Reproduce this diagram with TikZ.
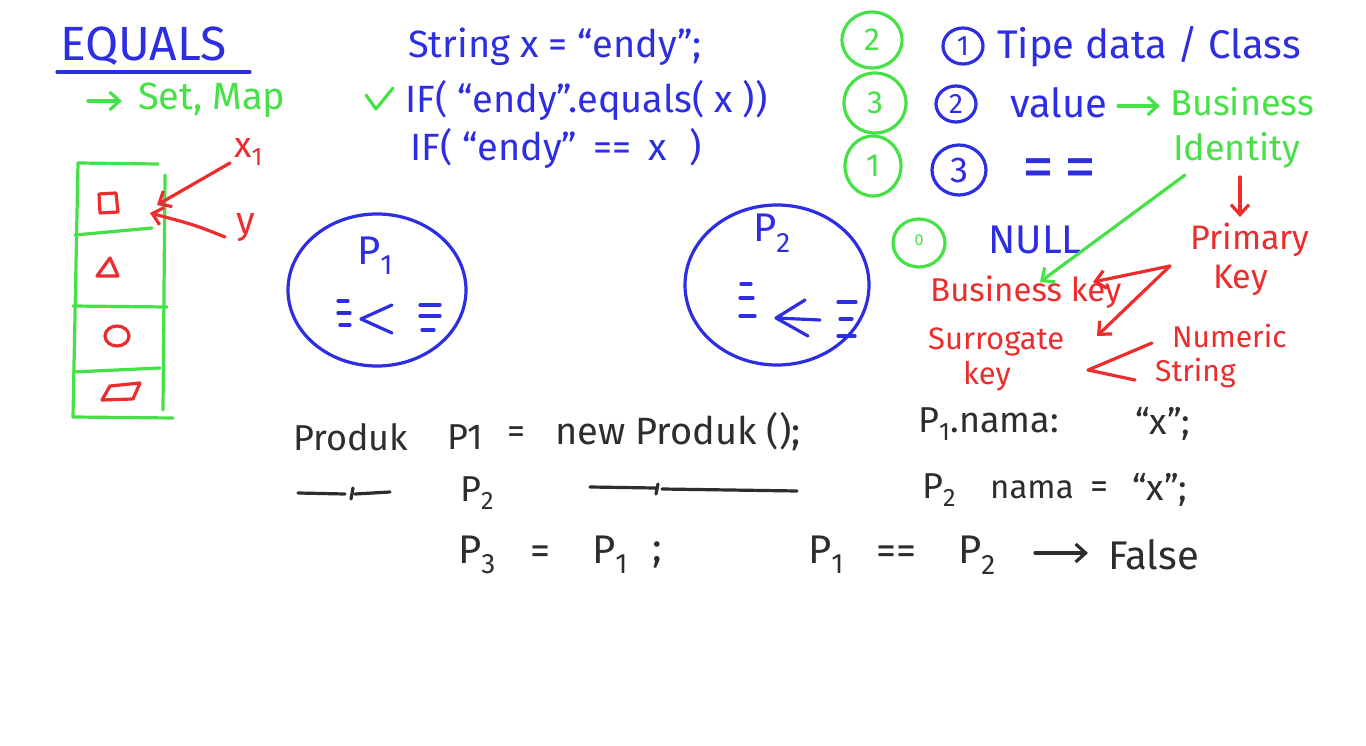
\documentclass[tikz,border=0pt]{standalone}
\usepackage{fontspec}
\setmainfont{Fira Sans}
\usetikzlibrary{arrows.meta}
\definecolor{penblue}{RGB}{45,45,225}
\definecolor{pengreen}{RGB}{70,225,70}
\definecolor{penred}{RGB}{235,45,45}
\definecolor{penblack}{RGB}{45,45,45}
\tikzset{
  hand/.style={line width=3.2pt, line cap=round, line join=round},
  barb/.style={-{Straight Barb[length=10pt,width=18pt,line width=3.2pt]}},
  txt/.style={inner sep=0pt, anchor=west, font=\fontsize{36}{40}\selectfont},
  fs/.style={font=\fontsize{#1}{#1}\selectfont},
  numtxt/.style={inner sep=0pt, font=\fontsize{32}{34}\selectfont},
  bl/.style={text=penblue},
  gr/.style={text=pengreen},
  rd/.style={text=penred},
  bk/.style={text=penblack},
}
\begin{document}
\begin{tikzpicture}[x=1pt,y=-1pt]
\useasboundingbox[fill=white] (0,0) rectangle (1366,746);

% ---- EQUALS header
\node[txt,bl,fs=48] (equals) at (60,46) {EQUALS};
\draw[hand,penblue] (57,72) -- (250,72);
\coordinate (setarrA) at (88,101);
\coordinate (setarrB) at (122,101);
\draw[hand,pengreen,barb] (setarrA) -- (setarrB);
\node[txt,gr,fs=38] (setmap) at (138,100) {Set, Map};

% ---- green bucket box
\draw[hand,pengreen] (78,163) -- (158,164);
\draw[hand,pengreen] (78,163) -- (73,417) -- (173,418);
\draw[hand,pengreen] (165,175) -- (163,410);
\draw[hand,pengreen] (75,235) -- (152,228);
\draw[hand,pengreen] (73,306) -- (167,307);
\draw[hand,pengreen] (73,372) -- (160,368);
% red shapes
\draw[hand,penred] (99,194) -- (116,193) -- (118,212) -- (100,213) -- cycle;
\draw[hand,penred] (97,276) -- (110,258) -- (118,276) -- cycle;
\draw[hand,penred] (117,336) ellipse[x radius=12,y radius=10];
\draw[hand,penred] (102,400) -- (110,386) -- (140,383) -- (133,399) -- cycle;
% x1 / y
\node[txt,rd,fs=36] (xone) at (234,152) {x\textsubscript{1}};
\node[txt,rd,fs=38] (yy) at (236,228) {y};
\coordinate (cellA) at (157,205);
\coordinate (cellB) at (150,213);
\draw[hand,penred,barb] (230,163) -- (cellA);
\draw[hand,penred,barb] (225,237) .. controls (195,225) .. (cellB);

% ---- code
\node[txt,bl,fs=38] (code1) at (408,47) {String x = “endy”;};
\node[txt,bl,fs=38] (code2) at (405,100) {IF( “endy”.equals( x ))};
\node[txt,bl,fs=38] (code3) at (410,148) {IF( “endy” \,== \,x \,\,)};
\draw[hand,pengreen] (366,95) -- (376,109) -- (393,88);

% ---- numbered list
\draw[hand,pengreen] (872,40) ellipse[x radius=30,y radius=28];
\node[numtxt,gr] (g2) at (872,40) {2};
\draw[hand,pengreen] (875,103) ellipse[x radius=31,y radius=30];
\node[numtxt,gr] (g3) at (875,103) {3};
\draw[hand,pengreen] (873,166) ellipse[x radius=28,y radius=30];
\node[numtxt,gr] (g1) at (873,166) {1};
\draw[hand,penblue] (963,46) ellipse[x radius=20,y radius=18];
\node[numtxt,bl,fs=28] (b1) at (963,46) {1};
\draw[hand,penblue] (956,104) ellipse[x radius=20,y radius=18];
\node[numtxt,bl,fs=28] (b2) at (956,104) {2};
\draw[hand,penblue] (959,170) ellipse[x radius=27,y radius=25];
\node[numtxt,bl,fs=36] (b3) at (959,170) {3};
\node[txt,bl,fs=40] (tipe) at (997,47) {Tipe data / Class};
\node[txt,bl,fs=40] (value) at (1010,103) {value};
\coordinate (valarrA) at (1118,106);
\coordinate (valarrB) at (1160,106);
\draw[hand,pengreen,barb] (valarrA) -- (valarrB);
\node[txt,gr,fs=36] (busid1) at (1170,102) {Business};
\node[txt,gr,fs=36] (busid2) at (1173,150) {Identity};
\node[txt,bl,fs=64] (eqeq) at (1022,174) {=\,=};

% ---- NULL and keys
\draw[hand,pengreen] (919,243) ellipse[x radius=26,y radius=24];
\node[numtxt,gr,fs=16] (g0) at (919,240) {0};
\node[txt,bl,fs=40] (null) at (988,240) {NULL};
\node[txt,rd,fs=34] (primary) at (1190,240) {Primary};
\node[txt,rd,fs=34] (pkey) at (1213,280) {Key};
\node[txt,rd,fs=33] (buskey) at (930,292) {Business key};
\node[txt,rd,fs=31] (surr) at (928,342) {Surrogate};
\node[txt,rd,fs=31] (skey) at (963,376) {key};
\node[txt,rd,fs=30] (numeric) at (1172,336) {Numeric};
\node[txt,rd,fs=30] (string) at (1155,373) {String};
\coordinate (bkin) at (1040,282);
\draw[hand,pengreen,barb] (1185,175) -- (bkin);
\coordinate (pkin) at (1240,217);
\draw[hand,penred,barb] (1240,177) -- (pkin);
\coordinate (vtop) at (1170,266);
\coordinate (bkarr) at (1093,282);
\coordinate (skarr) at (1097,336);
\draw[hand,penred,barb] (vtop) -- (bkarr);
\draw[hand,penred,barb] (vtop) -- (skarr);
\draw[hand,penred] (1152,343) -- (1088,370) -- (1135,380);

% ---- object circles
\draw[hand,penblue] (377,290) ellipse[x radius=89,y radius=76];
\node[bl,numtxt,fs=40] (p1lab) at (375,256) {P\textsubscript{1}};
\draw[hand,penblue] (338,301) -- (348,301) (338,313) -- (350,313) (340,325) -- (350,325);
\draw[hand,penblue] (392,305) -- (361,319) -- (392,333);
\draw[hand,penblue] (420,305) -- (440,305) (420,316) -- (440,316) (422,330) -- (434,330);

\draw[hand,penblue] (777,285) ellipse[x radius=92,y radius=80];
\node[bl,numtxt,fs=40] (p2lab) at (772,233) {P\textsubscript{2}};
\draw[hand,penblue] (741,284) -- (751,284) (740,298) -- (753,298) (740,316) -- (755,316);
\draw[hand,penblue] (805,300) -- (776,318) -- (808,336) (776,318) -- (820,320);
\draw[hand,penblue] (838,302) -- (856,302) (840,319) -- (852,319) (838,336) -- (855,336);

% ---- black code at bottom
\node[txt,bk] (produk) at (293,437) {Produk};
\node[txt,bk] (pone) at (447,437) {P1};
\node[txt,bk] (eqa) at (507,435) {=};
\node[txt,bk,fs=38] (newp) at (555,432) {new Produk ();};
\node[txt,bk] (p1nama) at (918,424) {P\textsubscript{1}.nama:};
\node[txt,bk] (p1val) at (1135,424) {“x”;};
\draw[hand,penblack] (298,493) -- (345,494) (355,494) -- (390,492) (353,488) -- (351,499);
\node[txt,bk] (ptwo) at (460,493) {P\textsubscript{2}};
\draw[hand,penblack] (590,487) -- (655,488) (662,489) -- (797,491) (658,484) -- (656,494);
\node[txt,bk] (p2) at (922,490) {P\textsubscript{2}};
\node[txt,bk,fs=33] (p2nama) at (990,490) {nama};
\node[txt,bk] (p2eq) at (1090,490) {=};
\node[txt,bk] (p2val) at (1132,490) {“x”;};
\node[txt,bk,fs=40] (p3) at (458,555) {P\textsubscript{3}};
\node[txt,bk,fs=40] (p3eq) at (530,555) {=};
\node[txt,bk,fs=40] (p3p1) at (592,555) {P\textsubscript{1}};
\node[txt,bk,fs=40] (p3semi) at (652,555) {;};
\node[txt,bk,fs=40] (cmp1) at (808,555) {P\textsubscript{1}};
\node[txt,bk,fs=40] (cmpeq) at (876,555) {==};
\node[txt,bk,fs=40] (cmp2) at (958,555) {P\textsubscript{2}};
\coordinate (falsearr) at (1088,553);
\draw[hand,penblack,barb] (1035,553) -- (falsearr);
\node[txt,bk,fs=40] (false) at (1108,555) {False};
\end{tikzpicture}
\end{document}
